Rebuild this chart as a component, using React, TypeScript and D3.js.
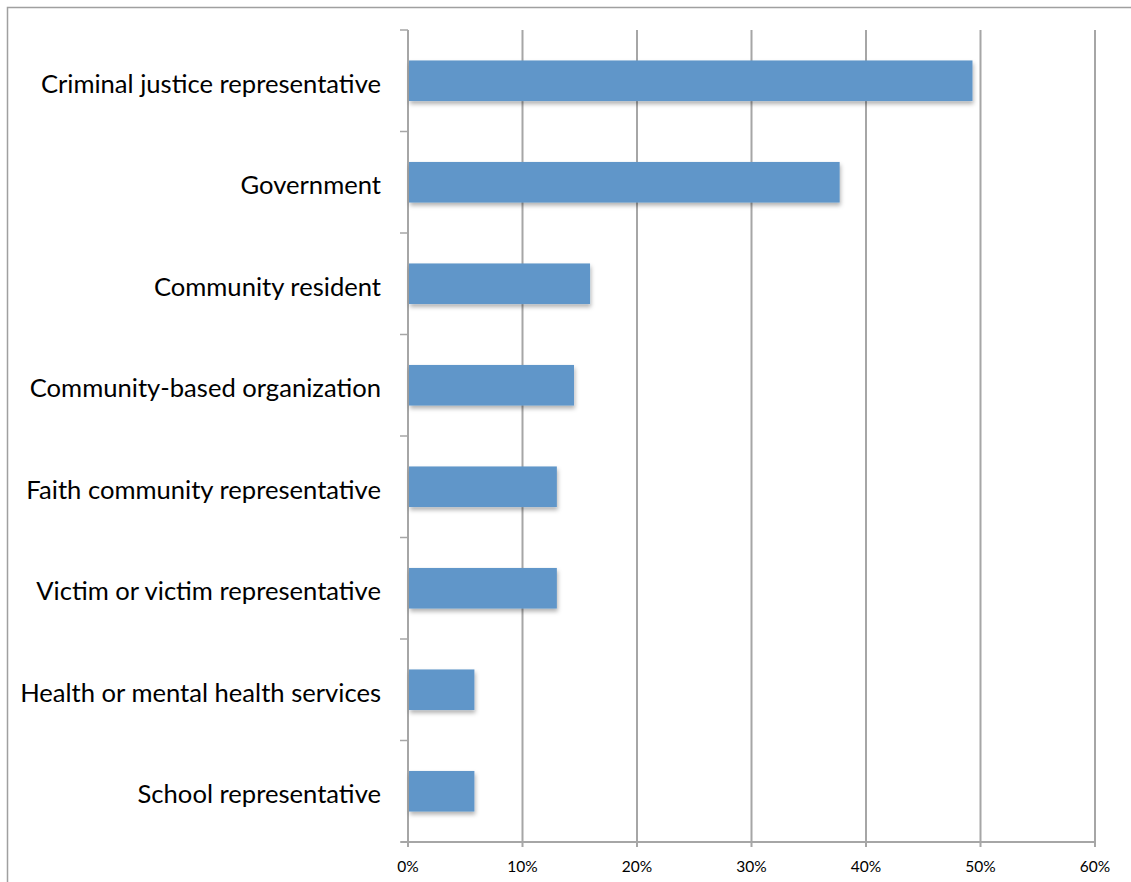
import React from "react";
import * as d3 from "d3";

const categories = [
  "Criminal justice representative",
  "Government",
  "Community resident",
  "Community-based organization",
  "Faith community representative",
  "Victim or victim representative",
  "Health or mental health services",
  "School representative",
];
const values = [49.3, 37.7, 15.9, 14.5, 13.0, 13.0, 5.8, 5.8];
const xTicks = [0, 10, 20, 30, 40, 50, 60];

const W = 1131;
const H = 882;
const left = 408;
const right = 1095;
const top = 30;
const bottom = 842;

export default function App() {
  const x = d3.scaleLinear().domain([0, 60]).range([left, right]);
  const y = d3
    .scaleBand<string>()
    .domain(categories)
    .range([top, bottom])
    .paddingInner(0.6)
    .paddingOuter(0.3);
  const step = (bottom - top) / categories.length;
  const gridColor = "#a6a6a6";
  const font = "Lato, 'Open Sans', sans-serif";

  return (
    <svg
      width={W}
      height={H}
      style={{ position: "absolute", left: 0, top: 0, background: "#fff" }}
    >
      <defs>
        <filter id="sh" x="-10%" y="-20%" width="130%" height="160%">
          <feDropShadow dx="1" dy="3" stdDeviation="2" floodColor="#000" floodOpacity="0.3" />
        </filter>
      </defs>
      <rect x={7.5} y={7.5} width={W + 20} height={H + 20} fill="none" stroke="#a0a0a0" strokeWidth={1.5} />
      {xTicks.map((t) => (
        <g key={t}>
          <line x1={x(t)} x2={x(t)} y1={top} y2={bottom + 5} stroke={gridColor} strokeWidth={2} />
          <text
            x={x(t)}
            y={872}
            textAnchor="middle"
            fontFamily={font}
            fontSize={15.5}
            fill="#000"
          >
            {t}%
          </text>
        </g>
      ))}
      <line x1={left - 7} x2={right} y1={bottom} y2={bottom} stroke={gridColor} strokeWidth={2} />
      {d3.range(categories.length + 1).map((i) => (
        <line
          key={i}
          x1={left - 8}
          x2={left}
          y1={top + i * step}
          y2={top + i * step}
          stroke={gridColor}
          strokeWidth={1.5}
        />
      ))}
      {categories.map((c, i) => (
        <g key={c}>
          <rect
            x={x(0) + 1}
            y={y(c)}
            width={x(values[i]) - x(0) - 1}
            height={y.bandwidth()}
            fill="#6196c9"
            filter="url(#sh)"
          />
          <text
            x={381}
            y={(y(c) ?? 0) + y.bandwidth() / 2 + 3}
            dy="0.35em"
            textAnchor="end"
            fontFamily={font}
            fontSize={25.6}
            fill="#000"
          >
            {c}
          </text>
        </g>
      ))}
    </svg>
  );
}
